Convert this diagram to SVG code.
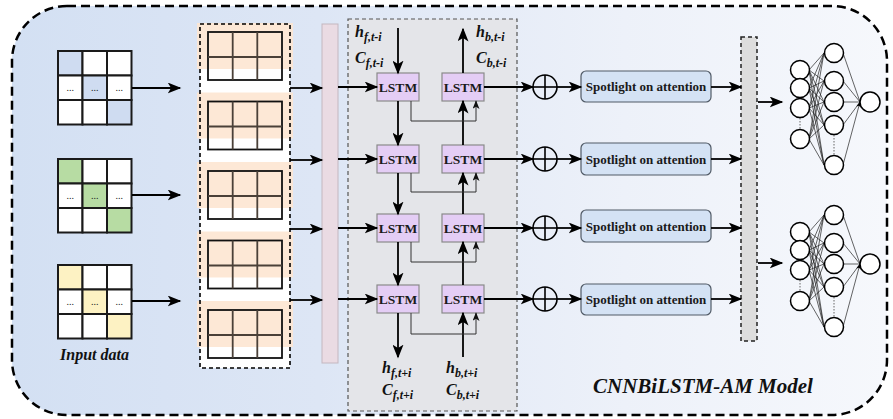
<svg xmlns="http://www.w3.org/2000/svg" width="893" height="419" viewBox="0 0 893 419">
<defs>
<linearGradient id="bg" x1="0" y1="0" x2="1" y2="0">
<stop offset="0" stop-color="#d3e0f3"/>
<stop offset="0.35" stop-color="#dde6f5"/>
<stop offset="0.7" stop-color="#edf1f9"/>
<stop offset="1" stop-color="#f6f8fc"/>
</linearGradient>
<marker id="ah" viewBox="0 0 10 8" refX="9" refY="4" markerWidth="6" markerHeight="5" markerUnits="userSpaceOnUse" orient="auto"><path d="M0,0 L10,4 L0,8 L2.5,4 z" fill="#000"/></marker>
<marker id="ah2" viewBox="0 0 10 8" refX="9" refY="4" markerWidth="14" markerHeight="11" orient="auto" markerUnits="userSpaceOnUse"><path d="M0,0 L10,4 L0,8 L2.5,4 z" fill="#000"/></marker>
<marker id="ah3" viewBox="0 0 10 8" refX="9" refY="4" markerWidth="9" markerHeight="7" orient="auto" markerUnits="userSpaceOnUse"><path d="M0,0 L10,4 L0,8 L2.5,4 z" fill="#111"/></marker>
</defs>
<style>
.lbl{font-family:"Liberation Serif","Times New Roman",serif;font-weight:bold;font-style:italic;fill:#111}
.lstm rect{fill:#e4cdf5;stroke:#8a8a8a;stroke-width:1.2}
.lstm text{font-family:"Liberation Serif","Times New Roman",serif;font-weight:bold;font-size:13.5px;fill:#1a1a1a;text-anchor:middle}
.spot rect{fill:#d4e2f4;stroke:#505a66;stroke-width:1.2}
.spot text{font-family:"Liberation Serif","Times New Roman",serif;font-weight:bold;font-size:13px;fill:#1a1a1a;text-anchor:middle}
.cell{fill:#fff;stroke:#1a1a1a;stroke-width:2}
.dots{font-family:"Liberation Serif",serif;font-size:10px;fill:#222;text-anchor:middle}
.fmap{fill:#fde6d1;opacity:0.9}
.fgrid{fill:none;stroke:#4a4038;stroke-width:1.8}
.main{stroke:#000;stroke-width:1.8;fill:none;marker-end:url(#ah2)}
.thin{stroke:#333;stroke-width:1;fill:none;marker-end:url(#ah3)}
.nn circle{fill:#fff;stroke:#000;stroke-width:1.5}
.nn .e{stroke:#222;stroke-width:0.7;fill:none;marker-end:url(#ah)}
.nn .dot{stroke:#666;stroke-width:1;stroke-dasharray:1.5,1.5}
.plus circle{fill:none;stroke:#000;stroke-width:1.6}
.plus line{stroke:#000;stroke-width:1.6}
</style>

<!-- outer frame -->
<rect id="frame" x="12" y="6" width="875" height="409" rx="55" fill="url(#bg)" stroke="#000" stroke-width="2.5" stroke-dasharray="9,5"/>

<!-- input grids -->
<g id="input1">
<rect class="cell" x="58" y="51" width="24.5" height="24.5" style="fill:#cfdcf1"/>
<rect class="cell" x="82.5" y="51" width="24.5" height="24.5"/>
<rect class="cell" x="107" y="51" width="24.5" height="24.5"/>
<rect class="cell" x="58" y="75.5" width="24.5" height="24.5"/>
<rect class="cell" x="82.5" y="75.5" width="24.5" height="24.5" style="fill:#cfdcf1"/>
<rect class="cell" x="107" y="75.5" width="24.5" height="24.5"/>
<rect class="cell" x="58" y="100" width="24.5" height="24.5"/>
<rect class="cell" x="82.5" y="100" width="24.5" height="24.5"/>
<rect class="cell" x="107" y="100" width="24.5" height="24.5" style="fill:#cfdcf1"/>
<text class="dots" x="70.3" y="91">...</text><text class="dots" x="94.8" y="91">...</text><text class="dots" x="119.3" y="91">...</text>
</g>
<g id="input2">
<rect class="cell" x="58" y="159" width="24.5" height="24.5" style="fill:#b7dca3"/>
<rect class="cell" x="82.5" y="159" width="24.5" height="24.5"/>
<rect class="cell" x="107" y="159" width="24.5" height="24.5"/>
<rect class="cell" x="58" y="183.5" width="24.5" height="24.5"/>
<rect class="cell" x="82.5" y="183.5" width="24.5" height="24.5" style="fill:#b7dca3"/>
<rect class="cell" x="107" y="183.5" width="24.5" height="24.5"/>
<rect class="cell" x="58" y="208" width="24.5" height="24.5"/>
<rect class="cell" x="82.5" y="208" width="24.5" height="24.5"/>
<rect class="cell" x="107" y="208" width="24.5" height="24.5" style="fill:#b7dca3"/>
<text class="dots" x="70.3" y="199">...</text><text class="dots" x="94.8" y="199">...</text><text class="dots" x="119.3" y="199">...</text>
</g>
<g id="input3">
<rect class="cell" x="58" y="265" width="24.5" height="24.5" style="fill:#fdf2c3"/>
<rect class="cell" x="82.5" y="265" width="24.5" height="24.5"/>
<rect class="cell" x="107" y="265" width="24.5" height="24.5"/>
<rect class="cell" x="58" y="289.5" width="24.5" height="24.5"/>
<rect class="cell" x="82.5" y="289.5" width="24.5" height="24.5" style="fill:#fdf2c3"/>
<rect class="cell" x="107" y="289.5" width="24.5" height="24.5"/>
<rect class="cell" x="58" y="314" width="24.5" height="24.5"/>
<rect class="cell" x="82.5" y="314" width="24.5" height="24.5"/>
<rect class="cell" x="107" y="314" width="24.5" height="24.5" style="fill:#fdf2c3"/>
<text class="dots" x="70.3" y="305">...</text><text class="dots" x="94.8" y="305">...</text><text class="dots" x="119.3" y="305">...</text>
</g>
<text id="input-label" class="lbl" x="94.5" y="360" font-size="16" text-anchor="middle">Input data</text>

<!-- CNN feature maps -->
<g id="cnn">
<rect x="200" y="24" width="90" height="344" fill="#fff"/>
<g id="fmap1"><rect class="fmap" x="197" y="23" width="96" height="46"/><rect class="fgrid" x="208" y="32" width="74" height="48" style="stroke:#111"/><path class="fgrid" d="M208,57 H282 M232.7,32 V80 M257.3,32 V80"/></g>
<g id="fmap2"><rect class="fmap" x="197" y="92.5" width="96" height="46"/><rect class="fgrid" x="208" y="101.5" width="74" height="48" style="stroke:#111"/><path class="fgrid" d="M208,126.5 H282 M232.7,101.5 V149.5 M257.3,101.5 V149.5"/></g>
<g id="fmap3"><rect class="fmap" x="197" y="162" width="96" height="46"/><rect class="fgrid" x="208" y="171" width="74" height="48" style="stroke:#111"/><path class="fgrid" d="M208,196 H282 M232.7,171 V219 M257.3,171 V219"/></g>
<g id="fmap4"><rect class="fmap" x="197" y="231.5" width="96" height="46"/><rect class="fgrid" x="208" y="240.5" width="74" height="48" style="stroke:#111"/><path class="fgrid" d="M208,265.5 H282 M232.7,240.5 V288.5 M257.3,240.5 V288.5"/></g>
<g id="fmap5"><rect class="fmap" x="197" y="301" width="96" height="46"/><rect class="fgrid" x="208" y="310" width="74" height="48" style="stroke:#111"/><path class="fgrid" d="M208,335 H282 M232.7,310 V358 M257.3,310 V358"/></g>
<rect x="200" y="24" width="90" height="344" fill="none" stroke="#000" stroke-width="1.6" stroke-dasharray="4,3"/>
</g>

<!-- pink flatten bar -->
<rect id="flatten" x="322" y="24" width="16" height="339" fill="#eadbe3" stroke="#c4b7c0" stroke-width="1"/>

<!-- BiLSTM box -->
<rect id="bilstm" x="348" y="19" width="169" height="392" fill="#e4e5e9" stroke="#555" stroke-width="1.2" stroke-dasharray="4,3"/>

<g id="lstm-f1" class="lstm"><rect x="377" y="73" width="42" height="28"/><text x="398" y="92">LSTM</text></g>
<g id="lstm-b1" class="lstm"><rect x="442" y="73" width="42" height="28"/><text x="463" y="92">LSTM</text></g>
<g id="lstm-f2" class="lstm"><rect x="377" y="145" width="42" height="28"/><text x="398" y="164">LSTM</text></g>
<g id="lstm-b2" class="lstm"><rect x="442" y="145" width="42" height="28"/><text x="463" y="164">LSTM</text></g>
<g id="lstm-f3" class="lstm"><rect x="377" y="214" width="42" height="28"/><text x="398" y="233">LSTM</text></g>
<g id="lstm-b3" class="lstm"><rect x="442" y="214" width="42" height="28"/><text x="463" y="233">LSTM</text></g>
<g id="lstm-f4" class="lstm"><rect x="377" y="285" width="42" height="28"/><text x="398" y="304">LSTM</text></g>
<g id="lstm-b4" class="lstm"><rect x="442" y="285" width="42" height="28"/><text x="463" y="304">LSTM</text></g>

<g id="state-labels" class="lbl">
<text x="355" y="37" font-size="16">h<tspan font-size="12" dy="4">f,t-i</tspan></text>
<text x="355" y="63" font-size="16">C<tspan font-size="12" dy="4">f,t-i</tspan></text>
<text x="476" y="37" font-size="16">h<tspan font-size="12" dy="4">b,t-i</tspan></text>
<text x="476" y="63" font-size="16">C<tspan font-size="12" dy="4">b,t-i</tspan></text>
<text x="382" y="373" font-size="16">h<tspan font-size="12" dy="4">f,t+i</tspan></text>
<text x="382" y="395" font-size="16">C<tspan font-size="12" dy="4">f,t+i</tspan></text>
<text x="446" y="373" font-size="16">h<tspan font-size="12" dy="4">b,t+i</tspan></text>
<text x="446" y="395" font-size="16">C<tspan font-size="12" dy="4">b,t+i</tspan></text>
</g>

<!-- add nodes -->
<g id="add1" class="plus"><circle cx="545" cy="87" r="12"/><line x1="533" y1="87" x2="557" y2="87"/><line x1="545" y1="75" x2="545" y2="99"/></g>
<g id="add2" class="plus"><circle cx="545" cy="159" r="12"/><line x1="533" y1="159" x2="557" y2="159"/><line x1="545" y1="147" x2="545" y2="171"/></g>
<g id="add3" class="plus"><circle cx="545" cy="228" r="12"/><line x1="533" y1="228" x2="557" y2="228"/><line x1="545" y1="216" x2="545" y2="240"/></g>
<g id="add4" class="plus"><circle cx="545" cy="299" r="12"/><line x1="533" y1="299" x2="557" y2="299"/><line x1="545" y1="287" x2="545" y2="311"/></g>

<!-- attention boxes -->
<g id="att1" class="spot"><rect x="581" y="71" width="130" height="31" rx="5"/><text x="646" y="91">Spotlight on attention</text></g>
<g id="att2" class="spot"><rect x="581" y="143" width="130" height="32" rx="5"/><text x="646" y="163.5">Spotlight on attention</text></g>
<g id="att3" class="spot"><rect x="581" y="210" width="130" height="32" rx="5"/><text x="646" y="230.5">Spotlight on attention</text></g>
<g id="att4" class="spot"><rect x="581" y="284" width="130" height="31" rx="5"/><text x="646" y="304">Spotlight on attention</text></g>

<!-- concat bar -->
<rect id="concat" x="741" y="37" width="16" height="304" fill="#dddddd" stroke="#222" stroke-width="1.5" stroke-dasharray="4,3"/>

<!-- neural nets -->
<g id="nn1" class="nn">
<g id="nn1-edges">
<path class="e" d="M809,70 L824,53 M809,70 L824,81 M809,70 L824,102 M809,70 L824,125 M809,70 L824,165
M809,88 L824,53 M809,88 L824,81 M809,88 L824,102 M809,88 L824,125 M809,88 L824,165
M809,108 L824,53 M809,108 L824,81 M809,108 L824,102 M809,108 L824,125 M809,108 L824,165
M809,139 L824,53 M809,139 L824,81 M809,139 L824,102 M809,139 L824,125 M809,139 L824,165
M843,53 L860,102 M843,81 L860,102 M843,102 L860,102 M843,125 L860,102 M843,165 L860,102"/>
</g>
<line class="dot" x1="800" y1="118" x2="800" y2="129"/>
<line class="dot" x1="834" y1="135" x2="834" y2="155"/>
<circle cx="800" cy="70" r="9.5"/><circle cx="800" cy="88" r="9.5"/><circle cx="800" cy="108" r="9.5"/><circle cx="800" cy="139" r="9.5"/>
<circle cx="834" cy="53" r="9.5"/><circle cx="834" cy="81" r="9.5"/><circle cx="834" cy="102" r="9.5"/><circle cx="834" cy="125" r="9.5"/><circle cx="834" cy="165" r="9.5"/>
<circle cx="870" cy="102" r="10"/>
</g>
<g id="nn2" class="nn" transform="translate(0,162)">
<g id="nn2-edges">
<path class="e" d="M809,70 L824,53 M809,70 L824,81 M809,70 L824,102 M809,70 L824,125 M809,70 L824,165
M809,88 L824,53 M809,88 L824,81 M809,88 L824,102 M809,88 L824,125 M809,88 L824,165
M809,108 L824,53 M809,108 L824,81 M809,108 L824,102 M809,108 L824,125 M809,108 L824,165
M809,139 L824,53 M809,139 L824,81 M809,139 L824,102 M809,139 L824,125 M809,139 L824,165
M843,53 L860,102 M843,81 L860,102 M843,102 L860,102 M843,125 L860,102 M843,165 L860,102"/>
</g>
<line class="dot" x1="800" y1="118" x2="800" y2="129"/>
<line class="dot" x1="834" y1="135" x2="834" y2="155"/>
<circle cx="800" cy="70" r="9.5"/><circle cx="800" cy="88" r="9.5"/><circle cx="800" cy="108" r="9.5"/><circle cx="800" cy="139" r="9.5"/>
<circle cx="834" cy="53" r="9.5"/><circle cx="834" cy="81" r="9.5"/><circle cx="834" cy="102" r="9.5"/><circle cx="834" cy="125" r="9.5"/><circle cx="834" cy="165" r="9.5"/>
<circle cx="870" cy="102" r="10"/>
</g>

<!-- connectors -->
<g id="connectors">
<path class="main" d="M132,88 H180"/>
<path class="main" d="M132,195 H180"/>
<path class="main" d="M132,301 H180"/>
<path class="main" d="M290,88 H322"/>
<path class="main" d="M290,160 H322"/>
<path class="main" d="M290,229 H322"/>
<path class="main" d="M290,300 H322"/>
<path class="main" d="M338,87 H377"/>
<path class="main" d="M338,159 H377"/>
<path class="main" d="M338,228 H377"/>
<path class="main" d="M338,299 H377"/>
<path class="main" d="M398,28 V73"/>
<path class="main" d="M398,101 V145"/>
<path class="main" d="M398,173 V214"/>
<path class="main" d="M398,242 V285"/>
<path class="main" d="M398,313 V357"/>
<path class="main" d="M463,73 V29"/>
<path class="main" d="M463,145 V101"/>
<path class="main" d="M463,214 V173"/>
<path class="main" d="M463,285 V242"/>
<path class="main" d="M463,357 V313"/>
<path class="thin" d="M411,101 V121 H476 V101"/>
<path class="thin" d="M411,173 V192 H476 V173"/>
<path class="thin" d="M411,242 V262 H476 V242"/>
<path class="thin" d="M411,313 V334 H476 V313"/>
<path class="main" d="M484,87 H533"/>
<path class="main" d="M484,159 H533"/>
<path class="main" d="M484,228 H533"/>
<path class="main" d="M484,299 H533"/>
<path class="main" d="M557,87 H581"/>
<path class="main" d="M557,159 H581"/>
<path class="main" d="M557,228 H581"/>
<path class="main" d="M557,299 H581"/>
<path class="main" d="M711,87 H741"/>
<path class="main" d="M711,159 H741"/>
<path class="main" d="M711,228 H741"/>
<path class="main" d="M711,299 H741"/>
<path class="main" d="M758,102 H782"/>
<path class="main" d="M758,263 H782"/>
</g>

<text id="title" class="lbl" x="593" y="393" font-size="21">CNNBiLSTM-AM Model</text>
</svg>
